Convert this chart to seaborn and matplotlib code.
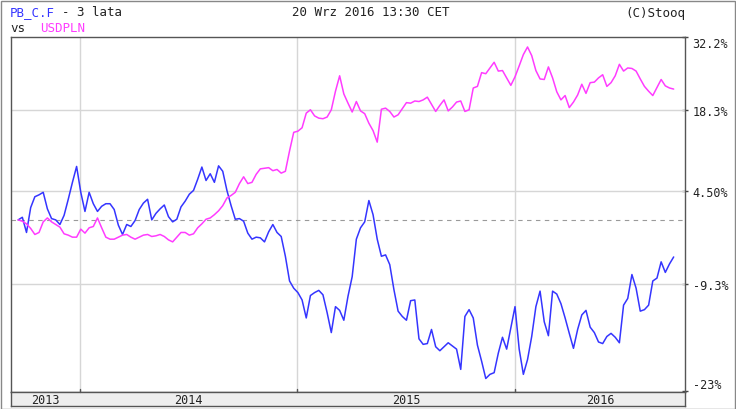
import numpy as np
import pandas as pd
import matplotlib
matplotlib.use("Agg")
import matplotlib.pyplot as plt
import matplotlib.dates as mdates
from matplotlib.patches import Rectangle
import seaborn as sns

# ---------------- data (percent change since start) ----------------
start_date = "2013-09-20"
n_weeks = 158
pbcf = [0.0, 0.4, -1.9, 1.9, 3.6, 3.9, 4.3, 1.7, 0.2, 0.0,
        -0.7, 0.7, 3.2, 5.9, 8.5, 4.3, 1.3, 4.3, 2.5, 1.3,
        2.1, 2.5, 2.5, 1.6, -0.8, -2.2, -0.7, -1.0, -0.1, 1.6,
        2.6, 3.2, 0.0, 1.0, 1.7, 2.3, 0.5, -0.3, 0.1, 2.0,
        2.9, 4.0, 4.6, 6.4, 8.4, 6.2, 7.3, 5.9, 8.6, 7.7,
        4.6, 2.2, 0.1, 0.2, -0.2, -2.0, -2.9, -2.6, -2.7, -3.3,
        -1.8, -0.7, -1.9, -2.5, -5.4, -8.9, -9.9, -10.5, -11.5, -13.9,
        -10.9, -10.5, -10.2, -10.8, -13.2, -15.8, -12.4, -12.9, -14.2, -11.0,
        -8.3, -2.9, -1.2, -0.3, 3.0, 0.8, -2.9, -5.4, -5.2, -6.6,
        -10.1, -13.0, -13.7, -14.2, -11.6, -11.5, -16.6, -17.3, -17.2, -15.4,
        -17.6, -18.1, -17.6, -17.1, -17.5, -17.9, -20.4, -13.7, -12.8, -13.9,
        -17.4, -19.4, -21.5, -21.0, -20.8, -18.4, -16.4, -17.9, -15.2, -12.4,
        -17.9, -21.0, -19.2, -16.3, -12.4, -10.3, -14.4, -16.2, -10.3, -10.7,
        -12.0, -13.9, -15.9, -17.8, -15.4, -13.5, -12.9, -15.1, -15.8, -17.0,
        -17.2, -16.3, -15.9, -16.4, -17.1, -12.2, -11.3, -8.0, -9.9, -13.0,
        -12.8, -12.2, -8.9, -8.5, -6.2, -7.7, -6.5, -5.5]
usdpln = [0.0, -0.2, -0.6, -1.3, -2.2, -1.9, -0.3, 0.3, -0.3, -0.7,
          -1.1, -2.1, -2.3, -2.6, -2.6, -1.4, -2.0, -1.2, -1.0, 0.3,
          -1.2, -2.6, -2.9, -2.9, -2.6, -2.3, -2.2, -2.6, -2.9, -2.6,
          -2.3, -2.2, -2.5, -2.4, -2.2, -2.5, -3.0, -3.3, -2.6, -1.9,
          -1.9, -2.3, -2.1, -1.2, -0.6, 0.1, 0.3, 0.8, 1.4, 2.2,
          3.4, 3.8, 4.3, 5.7, 6.8, 5.7, 5.9, 7.2, 8.1, 8.2,
          8.3, 7.8, 8.0, 7.4, 7.7, 11.1, 14.3, 14.5, 15.1, 17.7,
          18.3, 17.2, 16.8, 16.7, 17.0, 18.3, 21.7, 24.6, 21.2, 19.5,
          17.9, 19.8, 18.1, 17.6, 15.9, 14.6, 12.6, 18.4, 18.6, 18.0,
          17.0, 17.4, 18.5, 19.6, 19.5, 19.9, 19.8, 20.1, 20.6, 19.3,
          18.0, 19.1, 20.1, 18.1, 18.8, 19.7, 19.9, 18.0, 18.3, 22.3,
          22.6, 25.2, 25.0, 26.1, 27.2, 25.5, 25.6, 24.2, 22.8, 24.4,
          26.5, 28.7, 30.2, 28.5, 25.6, 24.0, 23.9, 26.3, 24.2, 21.6,
          20.1, 20.9, 18.7, 19.7, 21.0, 23.0, 21.3, 23.3, 23.4, 24.2,
          24.8, 22.6, 23.3, 24.6, 26.8, 25.5, 26.1, 26.0, 25.5, 24.0,
          22.6, 21.7, 20.9, 22.4, 23.9, 22.7, 22.3, 22.1]
series_names = ["PB_C.F", "USDPLN"]
series_colors = ["#3535ff", "#ff3cff"]
y_ticks = [32.2, 18.3, 4.5, -9.3, -23.0]
y_tick_labels = ["32.2%", "18.3%", "4.50%", "-9.3%", "-23%"]
years = [2013, 2014, 2015, 2016]
header_left = "PB_C.F"
header_left_rest = "- 3 lata"
header_mid = "20 Wrz 2016 13:30 CET"
header_right = "(C)Stooq"
vs_label = "vs"

dates = pd.date_range(start_date, periods=n_weeks, freq="7D")
df = pd.concat([
    pd.DataFrame({"date": dates, "value": pbcf, "series": series_names[0]}),
    pd.DataFrame({"date": dates, "value": usdpln, "series": series_names[1]}),
])

# ---------------- figure ----------------
sns.set_style("white")
plt.rcParams["font.family"] = ["DejaVu Sans Mono", "DejaVu Sans"]
W, H = 736, 410
fig = plt.figure(figsize=(W / 100, H / 100), dpi=100)
fig.patch.set_facecolor("white")

L, R, T, B = 11, 685, 38, 393
ax = fig.add_axes([L / W, 1 - B / H, (R - L) / W, (B - T) / H])

fwd = lambda v: np.log1p(np.asarray(v, dtype=float) / 100.0)
inv = lambda u: np.expm1(np.asarray(u, dtype=float)) * 100.0
ax.set_yscale("function", functions=(fwd, inv))

sns.lineplot(data=df, x="date", y="value", hue="series",
             palette=dict(zip(series_names, series_colors)),
             linewidth=1.1, legend=False, ax=ax, zorder=3)

xmin = pd.Timestamp("2013-09-08")
xmax = pd.Timestamp("2016-10-12")
ax.set_xlim(xmin, xmax)
ax.set_ylim(-23.1, 32.2)

grid_c = "#d6d6d6"
year_starts = [pd.Timestamp(f"{y + 1}-01-01") for y in years[:-1]]
for d in year_starts:
    ax.axvline(d, color=grid_c, lw=1.0, zorder=1)
for v in y_ticks[1:-1]:
    ax.axhline(v, color=grid_c, lw=1.0, zorder=1)
ax.axhline(0, color="#9a9a9a", lw=0.8, ls=(0, (4, 4)), zorder=2)

ax.set_xlabel("")
ax.set_ylabel("")
ax.set_xticks([])
ax.yaxis.tick_right()
ax.set_yticks(y_ticks)
ax.set_yticklabels(y_tick_labels)
ax.yaxis.set_minor_locator(matplotlib.ticker.NullLocator())
ax.tick_params(axis="y", which="major", direction="inout", length=5, width=1,
               color="#444444", labelsize=8.5, pad=3, labelcolor="#222222",
               right=True, left=False, labelright=True, labelleft=False)
lbls = ax.get_yticklabels()
lbls[0].set_va("top")
lbls[-1].set_va("bottom")
for s in ax.spines.values():
    s.set_color("#555555")
    s.set_linewidth(1.0)

# bottom date band
band = fig.add_axes([L / W, 1 - 407 / H, (R - L) / W, 14 / H])
band.set_facecolor("#eeeeee")
band.set_xlim(mdates.date2num(xmin), mdates.date2num(xmax))
band.set_ylim(0, 1)
band.set_xticks([])
band.set_yticks([])
for s in band.spines.values():
    s.set_color("#555555")
    s.set_linewidth(1.0)
bounds = [xmin] + year_starts + [xmax]
for i, y in enumerate(years):
    mid = bounds[i] + (bounds[i + 1] - bounds[i]) / 2
    band.text(mdates.date2num(mid), 0.45, str(y), ha="center", va="center",
              fontsize=8.5, color="#222222")
for d in year_starts:
    band.plot([mdates.date2num(d)] * 2, [1.0, 1.25], color="#555555", lw=1,
              clip_on=False)

# headers
fs = 9
renderer = fig.canvas.get_renderer()
gap = 7.5 / W  # one character advance (monospace)
t1 = fig.text(10 / W, 1 - 13 / H, header_left, color="#3535ff", fontsize=fs,
              va="center", ha="left")
x1 = fig.transFigure.inverted().transform(
    (t1.get_window_extent(renderer).x1, 0))[0]
fig.text(x1 + gap, 1 - 13 / H, header_left_rest,
         color="#222222", fontsize=fs, va="center", ha="left")
fig.text(371 / W, 1 - 13 / H, header_mid, color="#222222", fontsize=fs,
         va="center", ha="center")
fig.text(685 / W, 1 - 13 / H, header_right, color="#222222", fontsize=fs,
         va="center", ha="right")
t2 = fig.text(10 / W, 1 - 29 / H, vs_label, color="#222222", fontsize=fs,
              va="center", ha="left")
x2 = fig.transFigure.inverted().transform(
    (t2.get_window_extent(renderer).x1, 0))[0]
fig.text(x2 + 2 * gap, 1 - 29 / H, series_names[1],
         color="#ff3cff", fontsize=fs, va="center", ha="left")

# outer frame
fig.patches.append(Rectangle((0.5 / W, 0.5 / H), (W - 2) / W, (H - 2) / H,
                             transform=fig.transFigure, fill=False,
                             edgecolor="#888888", lw=1.0))

fig.savefig("out.png", dpi=100)
